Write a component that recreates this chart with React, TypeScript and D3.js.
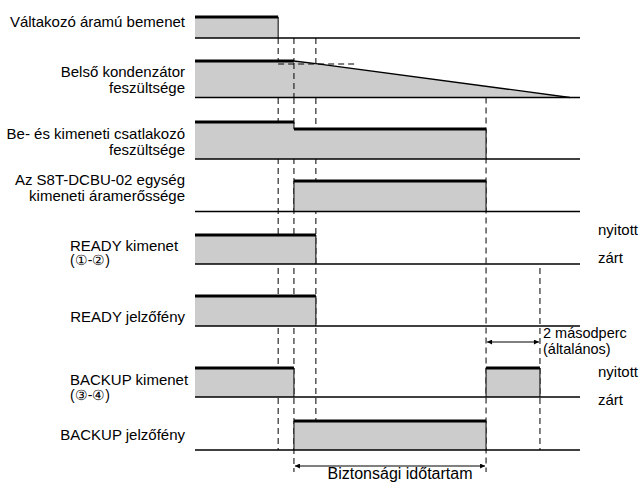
import React from "react";
import * as d3 from "d3";

// ---- data (time in arbitrary units, level 0..1) ----
const rowLabels = [
  ["Váltakozó áramú bemenet"],
  ["Belső kondenzátor", "feszültsége"],
  ["Be- és kimeneti csatlakozó", "feszültsége"],
  ["Az S8T-DCBU-02 egység", "kimeneti áramerőssége"],
  ["READY kimenet", "(①-②)"],
  ["READY jelzőfény"],
  ["BACKUP kimenet", "(③-④)"],
  ["BACKUP jelzőfény"],
];

const acInput: [number, number][] = [[0, 1], [21.6, 1], [21.6, 0]];
const capacitor: [number, number][] = [[0, 1], [25.7, 1], [31.4, 0.93], [97.4, 0]];
const ioVoltage: [number, number][] = [[0, 1], [25.7, 1], [25.7, 0.81], [75.6, 0.81], [75.6, 0]];
const unitCurrent: [number, number][] = [[25.7, 0], [25.7, 1], [75.6, 1], [75.6, 0]];
const readyOut: [number, number][] = [[0, 1], [31.4, 1], [31.4, 0]];
const readyLed: [number, number][] = [[0, 1], [31.4, 1], [31.4, 0]];
const backupOut: [number, number][] = [[0, 1], [25.7, 1], [25.7, 0], [75.6, 0], [75.6, 1], [89.6, 1], [89.6, 0]];
const backupLed: [number, number][] = [[25.7, 0], [25.7, 1], [75.6, 1], [75.6, 0]];

const signals = [acInput, capacitor, ioVoltage, unitCurrent, readyOut, readyLed, backupOut, backupLed];

const markerTimes = [21.6, 25.7, 31.4, 75.6, 89.6];
const capRefEnd = 42.3;
const safetySpan = [25.7, 75.6];
const holdSpan = [75.6, 89.6];
const timeDomain = [0, 100];

// ---- layout ----
const W = 640, H = 483;
const rowTop = [17, 61, 122, 181, 235, 296, 368, 421];
const rowBase = [38, 97.5, 159, 211.5, 264, 326, 397, 450];
const labelLines = [[27], [77, 93], [139, 155], [185, 200.5], [250.5, 265], [321.5], [385, 400], [440]];
const leftAligned = [false, false, false, false, true, false, true, false];
const FONT = "'Liberation Sans', Arial, Helvetica, sans-serif";

export default function App() {
  const x = d3.scaleLinear().domain(timeDomain).range([195, 580]);
  const ys = rowTop.map((t, i) => d3.scaleLinear().domain([0, 1]).range([rowBase[i], t]));

  const markerExtent: [number, number][] = [
    [rowBase[0], rowBase[7]],
    [rowBase[0], 472],
    [rowBase[0], rowTop[7]],
    [rowBase[1], 472],
    [rowBase[4] + 4, rowBase[7]],
  ];

  const dash = "6,4";
  const safetyY = 466;
  const holdY = 342;

  return (
    <svg width={W} height={H} style={{ position: "absolute", left: 0, top: 0, background: "#fff" }}
      fontFamily={FONT}>
      <defs>
        <marker id="ah" viewBox="0 0 10 10" refX="10" refY="5" markerWidth="9" markerHeight="5"
          markerUnits="userSpaceOnUse" orient="auto-start-reverse">
          <path d="M0,0 L10,5 L0,10 z" fill="#000" />
        </marker>
      </defs>
      <rect width={W} height={H} fill="#fff" />

      {/* dashed timing markers */}
      {markerTimes.map((t, i) => (
        <line key={"m" + i} x1={x(t)} x2={x(t)} y1={markerExtent[i][0]} y2={markerExtent[i][1]}
          stroke="#000" strokeWidth={1} strokeDasharray={dash} />
      ))}

      {/* signals */}
      {signals.map((pts, r) => {
        const y = ys[r];
        const area = d3.area<[number, number]>().x((d) => x(d[0])).y0(rowBase[r]).y1((d) => y(d[1]))(pts) || "";
        const segs = [] as React.ReactNode[];
        for (let k = 0; k < pts.length - 1; k++) {
          const a = pts[k], b = pts[k + 1];
          let w = 1.3;
          if (a[1] === b[1] && a[1] > 0) w = 3;
          else if (a[0] === b[0]) w = 1;
          else if (a[1] === b[1]) continue;
          segs.push(
            <line key={k} x1={x(a[0])} y1={y(a[1])} x2={x(b[0])} y2={y(b[1])} stroke="#000" strokeWidth={w} />
          );
        }
        return (
          <g key={"s" + r}>
            <path d={area} fill="#cccccc" />
            <line x1={x(timeDomain[0])} x2={x(timeDomain[1])} y1={rowBase[r]} y2={rowBase[r]} stroke="#000" strokeWidth={1.5} />
            {segs}
          </g>
        );
      })}

      {/* capacitor overlays */}
      <line x1={x(markerTimes[1])} x2={x(markerTimes[1])} y1={rowTop[1] + 2} y2={rowBase[1]} stroke="#000" strokeWidth={1} strokeDasharray={dash} />
      <line x1={x(markerTimes[0])} x2={x(capRefEnd)} y1={64} y2={64} stroke="#000" strokeWidth={1} strokeDasharray={dash} />

      {/* arrows */}
      <line x1={x(safetySpan[0]) + 1} x2={x(safetySpan[1]) - 1} y1={safetyY} y2={safetyY} stroke="#000" strokeWidth={1}
        markerStart="url(#ah)" markerEnd="url(#ah)" />
      <line x1={x(holdSpan[0]) + 1} x2={x(holdSpan[1]) - 1} y1={holdY} y2={holdY} stroke="#000" strokeWidth={1}
        markerStart="url(#ah)" markerEnd="url(#ah)" />

      {/* labels */}
      {rowLabels.map((lines, r) =>
        lines.map((s, j) => (
          <text key={r + "-" + j} x={leftAligned[r] ? 70 : 185} y={labelLines[r][j]}
            textAnchor={leftAligned[r] ? "start" : "end"} fontSize={s.startsWith("(") ? 14 : 15} fill="#000">
            {s}
          </text>
        ))
      )}

      <text x={598} y={235} fontSize={15}>nyitott</text>
      <text x={598} y={263} fontSize={15}>zárt</text>
      <text x={598} y={377} fontSize={15}>nyitott</text>
      <text x={598} y={405} fontSize={15}>zárt</text>
      <text x={543} y={337.5} fontSize={14.5}>2 másodperc</text>
      <text x={543} y={354} fontSize={14.5}>(általános)</text>
      <text x={400} y={479} fontSize={16} textAnchor="middle">Biztonsági időtartam</text>
    </svg>
  );
}
